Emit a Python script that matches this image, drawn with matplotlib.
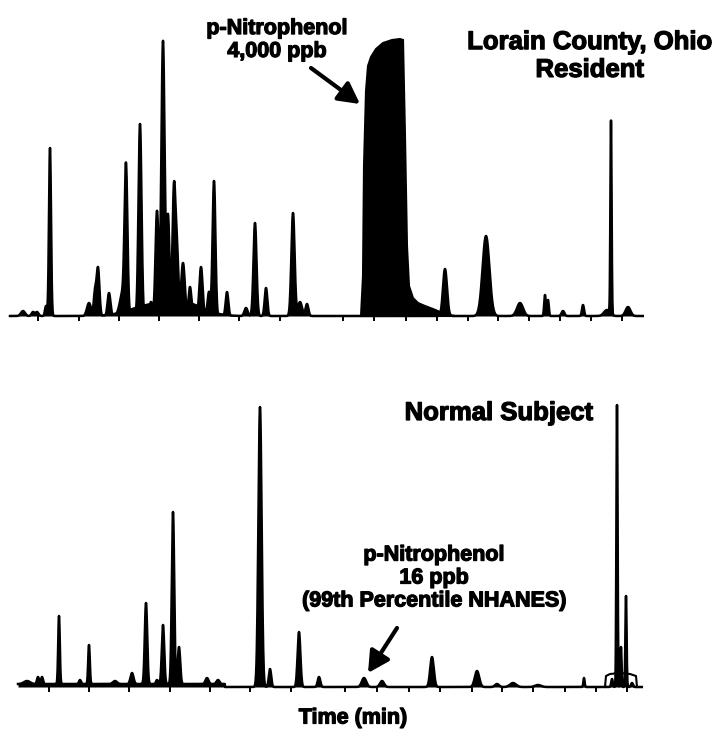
import numpy as np
import matplotlib.pyplot as plt
from matplotlib.patches import FancyArrowPatch
import matplotlib.patheffects as pe

# Peak tables: retention time (min), height (detector units), width sigma (min)
top_times = [1.15, 1.65, 1.85, 2.30, 2.50, 4.45, 4.75, 4.90, 5.45, 6.15, 6.30, 7.00,
             7.55, 7.85, 8.15, 8.40, 8.70, 8.85, 9.15, 9.50, 10.05, 10.45, 10.70,
             11.35, 12.30, 12.75, 13.30, 14.65, 15.00, 15.35, 22.25, 24.30, 26.00,
             27.25, 27.40, 28.15, 29.15, 30.35, 30.55, 31.40]
top_heights = [5, 4, 4, 10, 168, 13, 23, 48, 23, 24, 139, 192,
               14, 105, 275, 100, 128, 60, 53, 29, 49, 24, 135,
               24, 8, 93, 28, 103, 14, 12, 47, 80, 13,
               21, 16, 5, 11, 6, 193, 9]
top_widths = [0.10, 0.07, 0.07, 0.05, 0.05, 0.10, 0.06, 0.07, 0.07, 0.15, 0.07, 0.075,
              0.07, 0.075, 0.08, 0.07, 0.075, 0.07, 0.09, 0.07, 0.08, 0.07, 0.07,
              0.065, 0.08, 0.075, 0.065, 0.08, 0.10, 0.07, 0.10, 0.17, 0.15,
              0.04, 0.04, 0.07, 0.05, 0.15, 0.03, 0.12]

# unresolved hump under the crowded early region
hump_times = [7.50, 9.25]
hump_heights = [10, 12]
hump_widths = [1.0, 0.9]

# saturated p-nitrophenol peak, outline (min, height)
pnp_times = [18.05, 18.15, 18.20, 18.30, 18.40, 18.55, 18.80, 19.15, 19.60, 20.00,
             20.15, 20.25, 20.35, 20.45, 20.65, 20.90, 21.25, 21.65, 22.00, 22.40, 22.75]
pnp_heights = [0, 40, 150, 225, 250, 259, 267, 273, 276, 277,
               276, 180, 70, 30, 18, 13, 10, 7, 4, 1, 0]

bot_times = [1.35, 1.90, 2.10, 2.95, 4.00, 4.45, 5.75, 6.60, 7.30, 7.85, 8.15, 8.65,
             8.95, 10.35, 10.90, 13.00, 13.50, 14.95, 15.95, 18.20, 19.10, 21.60,
             23.85, 24.85, 25.65, 26.90, 29.20, 30.60, 30.85, 31.05, 31.30, 31.60]
bot_heights = [3, 7, 7, 68, 4, 39, 3, 11, 81, 4, 59, 172,
               37, 6, 4, 280, 18, 55, 10, 9, 6, 30,
               16, 3, 4, 2, 9, 8, 282, 40, 91, 4]
bot_widths = [0.15, 0.05, 0.05, 0.04, 0.05, 0.04, 0.10, 0.075, 0.06, 0.05, 0.06, 0.06,
              0.06, 0.075, 0.075, 0.08, 0.06, 0.07, 0.065, 0.11, 0.10, 0.09,
              0.11, 0.10, 0.15, 0.15, 0.03, 0.04, 0.03, 0.03, 0.03, 0.05]

# raised baseline at the start of the normal-subject run
bot_offset_range = (0.9, 11.25)
bot_offset_level = 3

# late-eluting plateau in the normal-subject run
plateau_times = [30.25, 30.30, 30.50, 31.00, 31.50, 31.80, 31.85]
plateau_heights = [0, 11, 13, 14, 13, 11, 0]

top_ticks = [1.90, 3.95, 5.95, 7.95, 9.95, 11.95, 14.00, 17.15, 18.70, 20.30,
             21.85, 23.40, 24.90, 26.45, 28.00, 29.55, 31.10]
bot_ticks = [2.45, 4.45, 6.45, 8.50, 10.50, 12.50, 14.55, 17.25, 18.85, 20.45,
             22.00, 23.60, 25.10, 26.65, 28.25, 29.80, 31.35]


def trace(t, times, heights, widths):
    y = np.zeros_like(t)
    for t0, h, w in zip(times, heights, widths):
        y += h * np.exp(-0.5 * ((t - t0) / w) ** 2)
    return y


W, H = 717, 734
fig = plt.figure(figsize=(W / 100, H / 100), dpi=100)
plt.rcParams['font.family'] = ['Liberation Sans', 'DejaVu Sans']

lw = 1.8


def setup(ax, ticks, ytop):
    ax.set_xlim(0, W / 20)
    ax.set_ylim(0, ytop)
    for s in ax.spines.values():
        s.set_visible(False)
    ax.set_yticks([])
    ax.set_xticks(ticks)
    ax.set_xticklabels([])
    ax.tick_params(axis='x', direction='out', length=3.5, width=1.4, color='black')
    ax.patch.set_alpha(0)


def draw(ax, t, y):
    ax.plot(t, y, color='black', lw=lw, clip_on=False, solid_joinstyle='round')
    ax.fill_between(t, 0, y, color='black', lw=0)


# Lorain County resident
ax1 = fig.add_axes([0, (H - 316) / H, 1, 286 / H])
setup(ax1, top_ticks, 286)
t1 = np.arange(0.5, 32.15, 0.01)
y1 = np.maximum(trace(t1, top_times, top_heights, top_widths),
                trace(t1, hump_times, hump_heights, hump_widths))
draw(ax1, t1, y1)
ax1.fill(pnp_times, pnp_heights, facecolor='black', edgecolor='black', lw=1.5, clip_on=False)

# normal subject
ax2 = fig.add_axes([0, (H - 687) / H, 1, 290 / H])
setup(ax2, bot_ticks, 290)
t2 = np.arange(0.9, 32.10, 0.01)
y2 = trace(t2, bot_times, bot_heights, bot_widths)
y2 += np.where((t2 >= bot_offset_range[0]) & (t2 <= bot_offset_range[1]), bot_offset_level, 0)
draw(ax2, t2, y2)
ax2.plot(plateau_times, plateau_heights, color='black', lw=1.5, clip_on=False)


def px(x, y):
    return x / W, 1 - y / H


heavy = [pe.withStroke(linewidth=0.9, foreground='black')]
bold = dict(fontweight='bold', color='black', ha='center', va='center', path_effects=heavy)
fig.text(*px(277, 40), 'p-Nitrophenol\n4,000 ppb', fontsize=15.5, linespacing=1.12, **bold)
fig.text(*px(590, 56), 'Lorain County, Ohio\nResident', fontsize=18.5, linespacing=1.2, **bold)
fig.text(*px(499, 413), 'Normal Subject', fontsize=18.5, **bold)
fig.text(*px(434, 578), 'p-Nitrophenol\n16 ppb\n(99th Percentile NHANES)',
         fontsize=15.5, linespacing=1.12, **bold)
fig.text(*px(353, 718), 'Time (min)', fontsize=15.5, **bold)

arrow = dict(arrowstyle='-|>,head_length=0.75,head_width=0.4', lw=3, color='black',
             shrinkA=0, shrinkB=0, mutation_scale=17)
fig.add_artist(FancyArrowPatch(px(311, 68), px(360, 104), transform=fig.transFigure, **arrow))
fig.add_artist(FancyArrowPatch(px(397, 628), px(368, 673), transform=fig.transFigure, **arrow))

fig.savefig('out.png', dpi=100)
